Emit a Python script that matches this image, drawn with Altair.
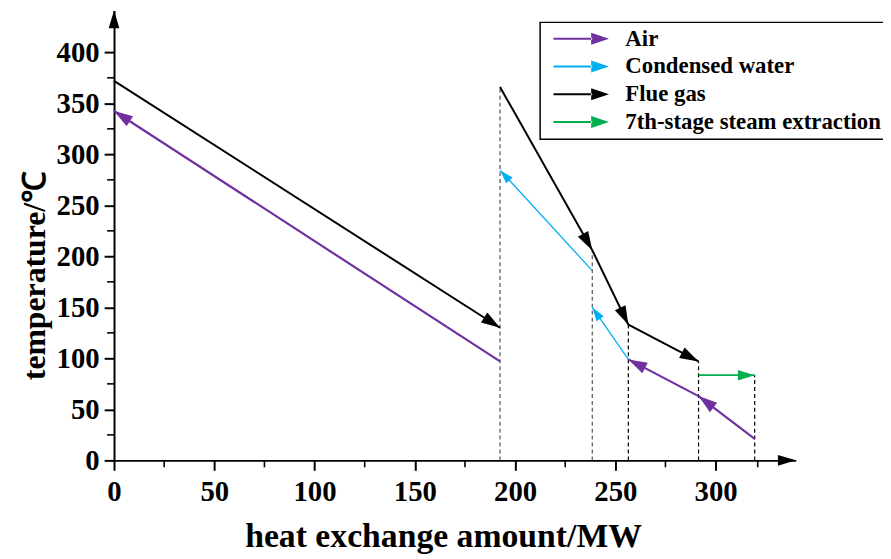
import math
import altair as alt
import pandas as pd

# ---------------- data ----------------
series_order = ["Air", "Condensed water", "Flue gas", "7th-stage steam extraction"]
series_colors = ["#7030A0", "#00B0F0", "#000000", "#00B050"]

# each series: list of arrow segments (start x, start y) -> (end x, end y)
air_x1 = [192.5, 319.5, 291.5]
air_y1 = [97, 21, 63]
air_x2 = [0, 291.5, 256.5]
air_y2 = [342.5, 63, 99]

water_x1 = [238.5, 256.5]
water_y1 = [186, 99]
water_x2 = [192.5, 238.5]
water_y2 = [284.5, 150]

flue_x1 = [0, 192.5, 238.5, 256.5]
flue_y1 = [372, 366, 206, 133]
flue_x2 = [192.5, 238.5, 256.5, 291.5]
flue_y2 = [130, 206, 133, 97]

steam_x1 = [291.5]
steam_y1 = [83.5]
steam_x2 = [319.5]
steam_y2 = [83.5]

# dashed guide lines
guide_x = [192.5, 238.5, 256.5, 291.5, 319.5]
guide_top = [366, 206, 133, 97, 83.5]
guide_color = ["#555555", "#555555", "#000000", "#000000", "#000000"]

x_major = [0, 50, 100, 150, 200, 250, 300]
x_minor = [25, 75, 125, 175, 225, 275, 321]
y_major = [0, 50, 100, 150, 200, 250, 300, 350, 400]
y_minor = [25, 75, 125, 175, 225, 275, 325, 375]

X_MAX, Y_MAX = 340, 441

# ---------------- styles ----------------
W, H = 688, 454
kx, ky = W / X_MAX, H / Y_MAX
line_width = {"Air": 2.2, "Condensed water": 1.3, "Flue gas": 2.0, "7th-stage steam extraction": 1.8}
head_size = {"Air": 361, "Condensed water": 196, "Flue gas": 361, "7th-stage steam extraction": 289}
color_of = dict(zip(series_order, series_colors))
FONT = "Liberation Serif"
HEAD = "M0,0L-2,-0.63L-2,0.63Z"
LEG_SYM = "M-0.3,-0.1L3.6,-0.1L3.6,0.1L-0.3,0.1Z M5.3,0L3.5,-0.6L3.5,0.6Z"

rows = []
for name, xs1, ys1, xs2, ys2 in [
    ("Air", air_x1, air_y1, air_x2, air_y2),
    ("Condensed water", water_x1, water_y1, water_x2, water_y2),
    ("Flue gas", flue_x1, flue_y1, flue_x2, flue_y2),
    ("7th-stage steam extraction", steam_x1, steam_y1, steam_x2, steam_y2),
]:
    for a, b, c, d in zip(xs1, ys1, xs2, ys2):
        ang = math.degrees(math.atan2(-(d - b) * ky, (c - a) * kx)) % 360
        rows.append(dict(series=name, x1=a, y1=b, x2=c, y2=d, angle=ang,
                         col=color_of[name], lw=line_width[name], hs=head_size[name]))
seg = pd.DataFrame(rows)

guides = pd.DataFrame({"x": guide_x, "y0": [0] * len(guide_x), "top": guide_top, "col": guide_color})
axis_arrows = pd.DataFrame({"x": [X_MAX, 0], "y": [0, Y_MAX], "angle": [0, 270]})
xminor_df = pd.DataFrame({"x": x_minor})
yminor_df = pd.DataFrame({"y": y_minor})

xs = alt.Scale(domain=[0, X_MAX], nice=False, zero=False)
ys = alt.Scale(domain=[0, Y_MAX], nice=False, zero=False)

x_axis = alt.Axis(values=x_major, title="heat exchange amount/MW", grid=False,
                  domainColor="black", domainWidth=2, tickColor="black", tickWidth=2,
                  tickSize=10, labelPadding=8, labelFontSize=29, titleFontSize=34,
                  titleX=332, titleY=87, titleBaseline="alphabetic", titleAlign="center",
                  labelFlush=False, labelOverlap=False, format="d")
y_axis = alt.Axis(values=y_major, title="temperature/℃", grid=False,
                  domainColor="black", domainWidth=2, tickColor="black", tickWidth=2,
                  tickSize=10, labelPadding=5, labelFontSize=29, titleFontSize=32,
                  titleX=-70, titleY=267, titleAngle=270, titleBaseline="alphabetic",
                  titleAlign="center", labelFlush=False, labelOverlap=False, format="d")

X = lambda f: alt.X(f, type="quantitative", scale=xs, axis=x_axis)
Y = lambda f: alt.Y(f, type="quantitative", scale=ys, axis=y_axis)

guide_layer = alt.Chart(guides).mark_rule(strokeDash=[4, 3], strokeWidth=1.2).encode(
    x=X("x"), y=Y("y0"), y2="top", color=alt.Color("col:N", scale=None))

line_layer = alt.Chart(seg).mark_rule().encode(
    x=X("x1"), y=Y("y1"), x2="x2", y2="y2",
    color=alt.Color("col:N", scale=None),
    strokeWidth=alt.StrokeWidth("lw:Q", scale=None))

head_layer = alt.Chart(seg).mark_point(filled=True, shape=HEAD, opacity=1, strokeWidth=0).encode(
    x=X("x2"), y=Y("y2"),
    angle=alt.Angle("angle:Q", scale=None),
    size=alt.Size("hs:Q", scale=None),
    color=alt.Color("series:N", scale=alt.Scale(domain=series_order, range=series_colors),
                    legend=alt.Legend(title=None, orient="none", legendX=430, legendY=12,
                                      symbolType=LEG_SYM, symbolSize=400, symbolStrokeWidth=0,
                                      symbolOpacity=1, labelFont=FONT, labelFontSize=23,
                                      labelFontWeight="bold", labelOffset=58, labelLimit=600,
                                      padding=5, rowPadding=4, strokeColor="black",
                                      fillColor="white")))

xminor_layer = alt.Chart(xminor_df).mark_rule(color="black", strokeWidth=1.6).encode(
    x=X("x"), y=alt.value(H), y2=alt.value(H + 7))
yminor_layer = alt.Chart(yminor_df).mark_rule(color="black", strokeWidth=1.6).encode(
    y=Y("y"), x=alt.value(0), x2=alt.value(-7))

arrow_layer = alt.Chart(axis_arrows).mark_point(filled=True, shape="M0,0L-2,-0.6L-2,0.6Z",
                                                size=324, opacity=1, color="black",
                                                strokeWidth=0).encode(
    x=X("x"), y=Y("y"), angle=alt.Angle("angle:Q", scale=None))

chart = alt.layer(guide_layer, line_layer, head_layer, xminor_layer, yminor_layer, arrow_layer).properties(
    width=W, height=H,
    autosize=alt.AutoSizeParams(type="none"),
    padding={"left": 107, "top": 0, "right": 88, "bottom": 95},
).configure_view(stroke=None).configure_axis(
    labelFont=FONT, titleFont=FONT, labelFontWeight="bold", titleFontWeight="bold",
    labelColor="black", titleColor="black"
).configure_legend(strokeWidth=1.5)

chart.save("out.html", embed_options={"renderer": "svg", "actions": False})
